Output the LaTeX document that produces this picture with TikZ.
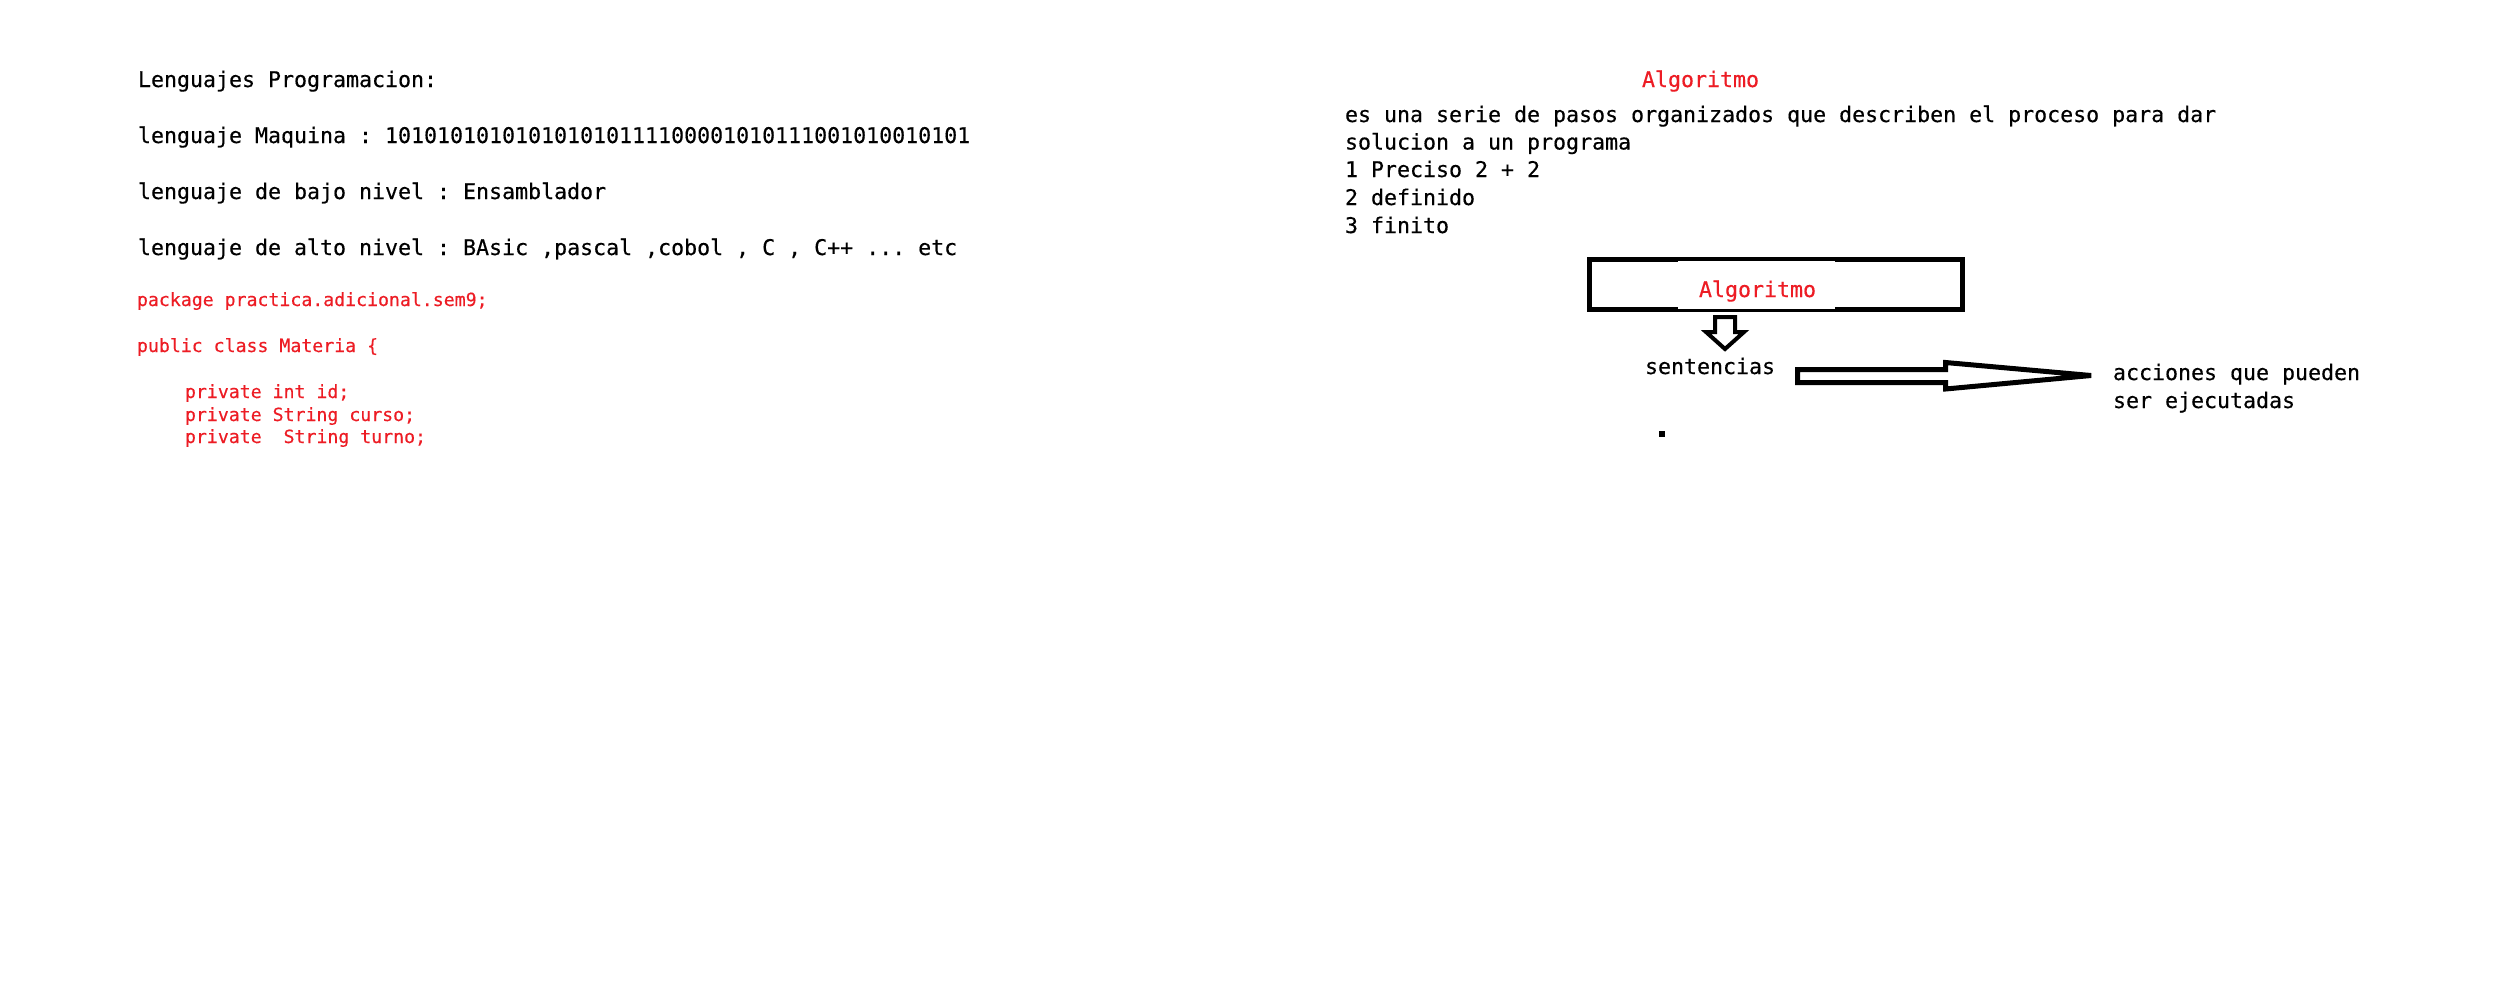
\documentclass[tikz,border=0pt]{standalone}
\usepackage{fontspec}
\setmonofont[FakeBold=0.35]{DejaVu Sans Mono}
\definecolor{pred}{RGB}{237,28,36}
\tikzset{
  txt/.style={anchor=base west, inner sep=0pt, outer sep=0pt,
              font=\ttfamily\fontsize{21.6}{26}\selectfont, text=black},
  codetxt/.style={txt, font=\ttfamily\fontsize{18.2}{22}\selectfont, text=pred},
  redtxt/.style={txt, text=pred},
  algobox/.style={draw=black, line width=5pt, inner sep=0pt, outer sep=0pt,
                  minimum width=373pt, minimum height=50pt},
  blockarrow/.style={draw=black, fill=white, line join=miter},
}
\begin{document}
\begin{tikzpicture}[x=1pt,y=-1pt]
\fill[white] (0,0) rectangle (2516,980);
\useasboundingbox (0,0) rectangle (2516,980);

% left column
\node[txt] (l1) at (138,87)  {Lenguajes Programacion:};
\node[txt] (l2) at (138,143) {lenguaje Maquina : 101010101010101010111100001010111001010010101};
\node[txt] (l3) at (138,199) {lenguaje de bajo nivel : Ensamblador};
\node[txt] (l4) at (138,255) {lenguaje de alto nivel : BAsic ,pascal ,cobol , C , C++ ... etc};

\node[codetxt] (c1) at (137,306) {package practica.adicional.sem9;};
\node[codetxt] (c2) at (137,352) {public class Materia \{};
\node[codetxt] (c3) at (185,398) {private int id;};
\node[codetxt] (c4) at (185,421) {private String curso;};
\node[codetxt] (c5) at (185,443) {private\ \ String turno;};

% right column
\node[redtxt] (t1) at (1642,87) {Algoritmo};
\node[txt] (r1) at (1345,122) {es una serie de pasos organizados que describen el proceso para dar};
\node[txt] (r2) at (1345,149.5) {solucion a un programa};
\node[txt] (r3) at (1345,177) {1 Preciso 2 + 2};
\node[txt] (r4) at (1345,205) {2 definido};
\node[txt] (r5) at (1345,233) {3 finito};

% box
\node[algobox] (box) at (1776,284.5) {};
\fill[white] (1678,260.5) rectangle (1835,308.5);
\node[redtxt] (boxtxt) at (1699,297) {Algoritmo};

% down block arrow
\draw[blockarrow, line width=4pt] (1715,317) -- (1735,317) -- (1735,332) -- (1744,332)
  -- (1725,349) -- (1706,332) -- (1715,332) -- cycle;

\node[txt] (sent) at (1645,374) {sentencias};

% right block arrow
\draw[blockarrow, line width=5pt] (1797.5,369.5) -- (1945.5,369.5) -- (1945.5,362.5)
  -- (2091,375.5) -- (1945.5,389) -- (1945.5,382.5) -- (1797.5,382.5) -- cycle;

\node[txt] (acc1) at (2113,380) {acciones que pueden};
\node[txt] (acc2) at (2113,408) {ser ejecutadas};

% small dot
\fill[black] (1659,431) rectangle (1665,437);
\end{tikzpicture}
\end{document}
